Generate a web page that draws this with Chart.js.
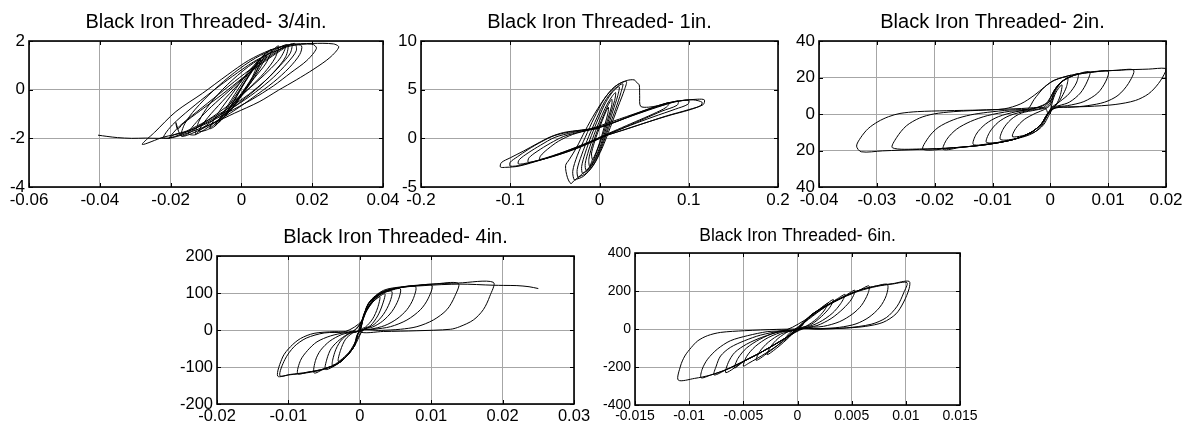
<!DOCTYPE html>
<html>
<head>
<meta charset="utf-8">
<script src="https://cdn.jsdelivr.net/npm/chart.js@4/dist/chart.umd.min.js"></script>
<style>
  html, body { margin: 0; padding: 0; background: #fff; }
  body { width: 1188px; height: 428px; position: relative; overflow: hidden; }
  canvas { position: absolute; }
</style>
</head>
<body>
<canvas id="p34"></canvas>
<canvas id="p1"></canvas>
<canvas id="p2"></canvas>
<canvas id="p4"></canvas>
<canvas id="p6"></canvas>
<script>
// --- data ---
const titles = [
    'Black Iron Threaded- 3/4in.',
    'Black Iron Threaded- 1in.',
    'Black Iron Threaded- 2in.',
    'Black Iron Threaded- 4in.',
    'Black Iron Threaded- 6in.'
];

// 3/4 in.
const xTicks34 = [-0.06, -0.04, -0.02, 0, 0.02, 0.04];
const yTicks34 = [-4, -2, 0, 2];
const curve34 = [
    [-0.004,-0.9],[-0.0015,-0.3],[0.0015,0.45],[0.0045,1.05],[0.003,0.5],[0.0,-0.15],[-0.004,-0.9],
    [-0.005,-1.15],[-0.002,-0.45],[0.001,0.3],[0.0035,0.85],[0.0055,1.25],[0.004,0.7],[0.0005,-0.1],[-0.0025,-0.7],[-0.005,-1.15],
    [-0.0065,-1.35],[-0.0035,-0.65],[0.0,0.1],[0.003,0.8],[0.0065,1.45],[0.0045,0.8],[0.001,0.0],[-0.0025,-0.75],[-0.0065,-1.35],
    [-0.0075,-1.5],[-0.0045,-0.8],[-0.001,0.0],[0.003,0.85],[0.0075,1.55],[0.0055,0.95],[0.002,0.15],[-0.002,-0.65],[-0.0075,-1.5],
    [-0.009,-1.6],[-0.0065,-0.95],[-0.0025,-0.15],[0.0015,0.65],[0.0055,1.3],[0.0085,1.65],[0.007,1.1],[0.0035,0.45],[-0.0005,-0.3],[-0.0045,-0.95],[-0.009,-1.6],
    [-0.012,-1.7],[-0.0095,-1.15],[-0.0055,-0.5],[-0.001,0.2],[0.0035,0.9],[0.0075,1.45],[0.0105,1.8],[0.0095,1.3],[0.0065,0.7],[0.0025,0.1],[-0.0025,-0.6],[-0.0075,-1.2],[-0.012,-1.7],
    [-0.013,-1.85],[-0.012,-1.3],[-0.009,-0.6],[-0.004,0.2],[0.002,0.95],[0.008,1.5],[0.013,1.85],[0.0125,1.35],[0.009,0.7],[0.004,0.0],[-0.002,-0.7],[-0.008,-1.4],[-0.013,-1.85],
    [-0.015,-1.8],[-0.0125,-1.3],[-0.0085,-0.7],[-0.0035,-0.05],[0.0015,0.6],[0.0065,1.2],[0.0105,1.6],[0.0125,1.78],[0.011,1.3],[0.0075,0.75],[0.003,0.15],[-0.002,-0.45],[-0.007,-1.0],[-0.0115,-1.45],[-0.015,-1.8],
    [-0.017,-1.9],[-0.016,-1.4],[-0.013,-0.8],[-0.008,-0.05],[-0.002,0.7],[0.004,1.3],[0.01,1.7],[0.015,1.85],[0.017,1.8],[0.0165,1.45],[0.0135,0.9],[0.009,0.3],[0.003,-0.35],[-0.003,-0.95],[-0.009,-1.45],[-0.014,-1.8],[-0.017,-1.9],
    [-0.0185,-1.35],[-0.018,-1.62],[-0.0165,-1.4],[-0.0115,-0.85],[-0.0055,-0.2],[0.0005,0.5],[0.0065,1.15],[0.011,1.6],[0.0142,1.87],[0.0138,1.5],[0.011,1.0],[0.007,0.4],[0.002,-0.2],[-0.004,-0.8],[-0.01,-1.3],[-0.0155,-1.7],[-0.019,-1.85],
    [-0.0205,-2.0],[-0.0175,-1.5],[-0.0125,-0.9],[-0.0065,-0.2],[-0.0005,0.5],[0.005,1.1],[0.01,1.6],[0.015,1.9],[0.0155,1.6],[0.013,1.1],[0.009,0.5],[0.004,-0.1],[-0.002,-0.7],[-0.008,-1.2],[-0.014,-1.65],[-0.0205,-2.0],
    [-0.022,-1.95],[-0.0195,-1.45],[-0.0145,-0.8],[-0.0085,-0.1],[-0.0025,0.55],[0.0035,1.15],[0.009,1.55],[0.014,1.8],[0.02,1.87],[0.0212,1.7],[0.0185,1.2],[0.014,0.7],[0.009,0.15],[0.003,-0.4],[-0.004,-0.95],[-0.01,-1.4],[-0.016,-1.75],[-0.022,-1.95],
    [-0.028,-2.25],[-0.0245,-1.75],[-0.0185,-0.9],[-0.011,-0.15],[-0.004,0.6],[0.002,1.2],[0.008,1.62],[0.0135,1.85],[0.02,1.9],[0.026,1.88],[0.0275,1.75],[0.025,1.32],[0.0205,0.85],[0.0155,0.4],[0.0105,-0.02],[0.005,-0.5],[-0.002,-0.97],[-0.008,-1.38],[-0.014,-1.72],[-0.0195,-1.97],[-0.0235,-2.0],
    [-0.027,-1.99],[-0.031,-2.0],[-0.035,-1.97],[-0.038,-1.92],[-0.0405,-1.87]
];

// 1 in.
const xTicks1 = [-0.2, -0.1, 0, 0.1, 0.2];
const yTicks1 = [-5, 0, 5, 10];
const curve1 = [
    [-0.008,-2.2],[-0.009,-1.6],[-0.006,-0.5],[-0.002,0.6],[0.003,1.8],[0.007,2.7],[0.01,3.2],[0.0095,2.6],[0.006,1.4],[0.002,0.1],[-0.002,-1.0],[-0.006,-1.9],[-0.008,-2.2],
    [-0.011,-2.9],[-0.012,-2.2],[-0.009,-1.0],[-0.004,0.4],[0.002,1.8],[0.008,3.1],[0.012,3.8],[0.014,4.0],[0.0135,3.3],[0.009,1.9],[0.004,0.4],[-0.002,-1.1],[-0.007,-2.3],[-0.011,-2.9],
    [-0.015,-3.3],[-0.016,-2.6],[-0.012,-1.2],[-0.006,0.4],[0.001,2.0],[0.008,3.4],[0.014,4.3],[0.018,4.7],[0.017,3.9],[0.012,2.4],[0.006,0.6],[0.0,-1.0],[-0.006,-2.3],[-0.011,-3.0],[-0.015,-3.3],
    [-0.019,-3.6],[-0.02,-2.9],[-0.016,-1.5],[-0.009,0.3],[-0.001,2.1],[0.007,3.7],[0.015,4.8],[0.022,5.3],[0.0205,4.4],[0.015,2.8],[0.008,0.8],[0.001,-1.0],[-0.006,-2.4],[-0.013,-3.3],[-0.019,-3.6],
    [-0.024,-4.0],[-0.025,-3.2],[-0.02,-1.7],[-0.012,0.2],[-0.003,2.1],[0.006,3.8],[0.016,5.0],[0.026,5.6],[0.024,4.7],[0.018,3.0],[0.01,1.0],[0.002,-1.0],[-0.006,-2.6],[-0.015,-3.6],[-0.024,-4.0],
    [-0.028,-4.3],[-0.03,-3.4],[-0.025,-1.8],[-0.016,0.1],[-0.006,2.1],[0.005,4.0],[0.017,5.3],[0.03,5.85],[0.028,5.0],[0.021,3.3],[0.012,1.1],[0.003,-1.0],[-0.007,-2.8],[-0.018,-3.9],[-0.028,-4.3],
    [-0.032,-4.65],[-0.036,-4.0],[-0.038,-2.8],[-0.034,-2.2],[-0.026,-1.0],[-0.016,0.8],[-0.005,2.6],[0.008,4.4],[0.02,5.5],[0.031,5.95],[0.039,6.0],
    [0.042,5.7],[0.0445,5.5],[0.045,4.4],[0.046,3.3],[0.055,3.2],[0.065,3.35],[0.078,3.65],
    [0.075,3.2],[0.06,2.5],[0.04,1.7],[0.02,0.9],[0.0,0.1],[-0.02,-0.8],[-0.04,-1.5],[-0.06,-2.05],[-0.067,-2.15],
    [-0.066,-1.8],[-0.058,-1.1],[-0.046,-0.3],[-0.03,0.4],[-0.01,0.9],[0.01,1.4],[0.03,2.1],[0.055,2.9],[0.075,3.5],[0.088,3.85],
    [0.087,3.4],[0.07,2.8],[0.05,2.0],[0.03,1.2],[0.01,0.4],[-0.01,-0.45],[-0.03,-1.2],[-0.055,-1.95],[-0.075,-2.4],[-0.08,-2.45],
    [-0.079,-2.0],[-0.07,-1.35],[-0.055,-0.5],[-0.04,0.2],[-0.02,0.7],[0.0,1.1],[0.025,1.95],[0.05,2.85],[0.075,3.6],[0.09,3.85],[0.1,3.9],
    [0.099,3.5],[0.085,3.0],[0.06,2.2],[0.035,1.35],[0.01,0.45],[-0.015,-0.5],[-0.04,-1.4],[-0.065,-2.2],[-0.085,-2.6],[-0.091,-2.62],
    [-0.09,-2.2],[-0.08,-1.5],[-0.066,-0.7],[-0.05,0.1],[-0.03,0.6],[-0.01,0.95],[0.015,1.6],[0.04,2.45],[0.065,3.25],[0.09,3.85],[0.105,3.95],[0.115,3.7],[0.113,3.35],
    [0.1,2.9],[0.08,2.4],[0.055,1.7],[0.03,0.95],[0.008,0.3],[-0.015,-0.55],[-0.04,-1.4],[-0.065,-2.15],[-0.088,-2.75],[-0.1,-2.85],
    [-0.1,-2.45],[-0.092,-1.9],[-0.08,-1.15],[-0.065,-0.35],[-0.05,0.3],[-0.03,0.7],[-0.01,1.0],[0.015,1.75],[0.045,2.7],[0.075,3.6],[0.095,3.9],[0.11,4.02],[0.1175,3.95],
    [0.116,3.45],[0.1,2.95],[0.075,2.3],[0.05,1.55],[0.025,0.8],[0.005,0.2],[-0.015,-0.6],[-0.04,-1.45],[-0.065,-2.2],[-0.09,-2.85],[-0.105,-2.98],[-0.111,-2.95],
    [-0.11,-2.5],[-0.1,-2.0],[-0.085,-1.3],[-0.07,-0.55],[-0.055,0.15],[-0.04,0.6],[-0.02,0.85],[0.0,1.0]
];

// 2 in.
const xTicks2 = [-0.04, -0.03, -0.02, -0.01, 0, 0.01, 0.02];
const yTicks2 = [-40, -20, 0, 20, 40];
const yLabels2 = ['40', '20', '0', '20', '40'];
const curve2 = [
    [0,0],[0.0003,6],[0.001,12],[0.002,16],[0.0017,10],[0.001,5],[0.0003,2.5],
    [-0.0003,-1],[-0.0012,-6],[-0.0028,-10],[-0.0065,-12.5],[-0.006,-8],[-0.0045,-3],[-0.0025,0.5],[-0.001,2.5],
    [0.0,5],[0.0008,12],[0.0018,17],[0.003,19.8],[0.0028,15],[0.002,9.5],[0.0012,5.5],[0.0004,3.5],
    [-0.0004,0],[-0.0014,-6],[-0.003,-10.5],[-0.0055,-13.2],[-0.0086,-14],[-0.0082,-8.5],[-0.0068,-3],[-0.005,0.5],[-0.0025,2.2],[-0.0008,3.5],
    [0.0,6.5],[0.0008,13],[0.002,17.6],[0.0035,20.5],[0.0048,22],[0.0045,17],[0.0032,11],[0.0018,7.2],[0.0008,5],[0.0002,3.5],
    [-0.0005,-0.5],[-0.0016,-5.8],[-0.0034,-10.2],[-0.0063,-13.9],[-0.011,-15.7],[-0.0105,-10],[-0.009,-4.5],[-0.007,-0.8],[-0.004,1.8],[-0.0015,3.2],
    [-0.0005,5.5],[0.0005,12],[0.0019,17.6],[0.0042,21.3],[0.0068,23.1],[0.0064,18],[0.0052,11.5],[0.0033,6.5],[0.0015,4.6],[0.0003,3.6],
    [-0.0005,0],[-0.0016,-5.6],[-0.0034,-10.2],[-0.0063,-13.9],[-0.0105,-16.2],[-0.0133,-16.7],[-0.0128,-11],[-0.0112,-5.5],[-0.009,-1.5],[-0.006,1.2],[-0.003,2.8],
    [-0.001,5],[0.0,9],[0.0007,13],[0.0019,17.6],[0.0042,21.3],[0.0077,23.1],[0.01,23.4],[0.0096,18],[0.0082,11.5],[0.0058,6.8],[0.003,4.6],[0.0008,3.6],
    [-0.0005,0],[-0.0016,-5.6],[-0.0034,-10.2],[-0.0063,-13.9],[-0.0109,-16.7],[-0.0155,-18.3],[-0.0185,-19.4],[-0.0179,-13.9],[-0.0162,-8.3],[-0.0138,-4.1],[-0.0109,-0.9],[-0.007,1.5],[-0.004,2.5],
    [-0.0028,8],[-0.001,14.8],[0.0007,18.5],[0.0036,21.3],[0.0077,23.3],[0.0115,23.9],[0.0144,24],[0.0135,16.7],[0.0117,10.2],[0.0094,6.5],[0.0065,4.6],[0.0036,3.7],[0.001,3.4],
    [-0.0005,0],[-0.0016,-5.6],[-0.0034,-10.2],[-0.0063,-13.9],[-0.0109,-16.7],[-0.0167,-18.5],[-0.022,-19.4],[-0.0211,-13],[-0.0194,-7.4],[-0.0167,-3.1],[-0.0138,-0.5],[-0.0109,0.9],[-0.007,2.2],[-0.003,3],
    [0.0001,7.4],[0.0007,13],[0.0019,17.6],[0.0042,21.3],[0.0077,23.1],[0.0123,24.1],[0.017,24.6],[0.0199,25],[0.0199,23.1],[0.0187,16.7],[0.017,11.1],[0.0147,7.4],[0.0112,5.2],[0.0065,4.1],[0.0007,3.3],
    [-0.0005,0],[-0.0016,-5.6],[-0.0034,-10.2],[-0.0063,-13.9],[-0.0109,-16.7],[-0.0167,-18.5],[-0.0226,-19.2],[-0.0273,-18.5],[-0.0266,-13],[-0.0249,-6.5],[-0.0226,-2.2],[-0.0202,0],[-0.0167,1.3],[-0.011,2.2],[-0.005,3],
    [-0.001,3.3],[-0.0005,0],[-0.0016,-5.6],[-0.0034,-10.2],[-0.0063,-13.9],[-0.0109,-16.7],[-0.0167,-18.5],[-0.0226,-19.4],[-0.029,-20.2],[-0.0327,-20.7],
    [-0.0335,-17.6],[-0.0328,-13],[-0.0315,-8],[-0.0298,-4.2],[-0.028,-1.5],[-0.026,0.3],[-0.023,1.3],[-0.018,1.8],[-0.012,2.2],[-0.008,2.8],[-0.0051,5.6],[-0.0028,10.2],[-0.001,14.8],[0.0007,18.5],[0.0036,21.3]
];

// 4 in.
const xTicks4 = [-0.02, -0.01, 0, 0.01, 0.02, 0.03];
const yTicks4 = [-200, -100, 0, 100, 200];
const curve4 = [
    [0,0],[0.0008,45],[0.0018,75],[0.0028,90],[0.0025,60],[0.0018,30],[0.0008,8],[0,0],[-0.0008,-40],[-0.0018,-70],[-0.003,-85],[-0.0027,-55],[-0.002,-25],[-0.001,-8],[0,0],
    [0.0006,40],[0.0018,75],[0.0035,98],[0.0032,70],[0.0025,38],[0.0015,12],[0.0005,2],[-0.0004,-25],[-0.0016,-62],[-0.0038,-95],[-0.0035,-60],[-0.0027,-30],[-0.0015,-10],[0,-1],
    [0.0006,42],[0.002,82],[0.0033,101],[0.0045,104],[0.0042,75],[0.0033,42],[0.002,15],[0.0008,3],[-0.0003,-10],[-0.0009,-48],[-0.0027,-86],[-0.0048,-107],[-0.0046,-78],[-0.004,-50],[-0.0028,-26],[-0.0012,-6],[0,-1],
    [0.0006,45],[0.0024,91],[0.0047,109],[0.0057,111],[0.0054,82],[0.0045,50],[0.0032,24],[0.0018,8],[0.0005,1],[-0.0008,-45],[-0.0027,-86],[-0.005,-105],[-0.0064,-116],[-0.0062,-82],[-0.0055,-55],[-0.0042,-30],[-0.0025,-12],[-0.0008,-3],
    [0.0003,25],[0.0012,70],[0.003,100],[0.0057,115],[0.0078,117],[0.0075,85],[0.0066,55],[0.0052,30],[0.0035,12],[0.0015,2],[0,-2],[-0.0008,-45],[-0.0027,-86],[-0.005,-105],[-0.0073,-114],[-0.0087,-118],[-0.0083,-82],[-0.0073,-55],[-0.006,-32],[-0.0041,-16],[-0.002,-7],[-0.0003,-3],
    [0.0003,25],[0.0012,70],[0.003,102],[0.0057,115],[0.008,120],[0.0101,121],[0.0096,86],[0.0085,55],[0.0066,27],[0.0043,9],[0.002,2],[0,-2],[-0.0008,-45],[-0.0027,-86],[-0.005,-105],[-0.0073,-114],[-0.0097,-120],[-0.0115,-124.5],[-0.0108,-73],[-0.0097,-45],[-0.0083,-23],[-0.0064,-9],[-0.0036,-4.5],[-0.001,-3],
    [0.0003,25],[0.0012,72],[0.0033,104],[0.0057,115],[0.008,120],[0.0103,124],[0.0138,126],[0.0133,91],[0.0122,55],[0.0103,27],[0.008,9],[0.0057,2],[0.003,-1],[0,-3],
    [-0.0008,-45],[-0.0027,-86],[-0.005,-106],[-0.0075,-116],[-0.0098,-121],[-0.0112,-123],[-0.0105,-80],[-0.0092,-45],[-0.0075,-22],[-0.005,-8],[-0.002,-4],
    [0.0003,25],[0.0013,75],[0.0033,107],[0.006,117],[0.01,124],[0.0138,127],[0.0187,129],[0.0182,91],[0.0173,55],[0.0159,27],[0.014,9],[0.0127,2],[0.008,-2],[0.0033,-4],[0.0,-4],
    [0.0006,40],[0.0022,88],[0.005,112],[0.009,120],[0.014,124],[0.0187,121],[0.0201,120.5],[0.022,120],[0.0237,117],[0.025,112]
];

// 6 in.
const xTicks6 = [-0.015, -0.01, -0.005, 0, 0.005, 0.01, 0.015];
const yTicks6 = [-400, -200, 0, 200, 400];
const curve6 = [
    [0,0],[0.0008,50],[0.0018,95],[0.0028,135],[0.0025,100],[0.0018,55],[0.0008,15],[0,0],[-0.0008,-45],[-0.0018,-95],[-0.0028,-135],[-0.0025,-95],[-0.0018,-50],[-0.0008,-12],[0,0],
    [0.001,55],[0.0022,110],[0.0033,155],[0.003,115],[0.0022,65],[0.0012,22],[0.0002,2],[-0.001,-50],[-0.0025,-115],[-0.0038,-165],[-0.0035,-120],[-0.0027,-70],[-0.0015,-25],[-0.0003,-4],
    [0.001,50],[0.0025,115],[0.0037,160],[0.0044,182],[0.004,135],[0.0032,82],[0.002,35],[0.0008,8],[-0.0005,-10],[-0.0015,-70],[-0.003,-130],[-0.0045,-180],[-0.005,-195],[-0.0047,-145],[-0.0039,-92],[-0.0027,-45],[-0.0012,-12],[0,-2],
    [0.0012,71],[0.0027,124],[0.0042,168],[0.0053,204],[0.005,158],[0.0042,106],[0.0031,55],[0.0018,18],[0.0004,2],[-0.001,-44],[-0.0034,-124],[-0.0049,-168],[-0.0058,-205],[-0.0055,-155],[-0.0047,-100],[-0.0035,-55],[-0.002,-18],[-0.0003,-3],
    [0.0012,71],[0.0027,124],[0.0042,168],[0.0057,204],[0.0066,227],[0.0065,186],[0.0059,124],[0.0051,80],[0.0039,39],[0.0024,14],[0.0006,3],[-0.001,-44],[-0.0034,-124],[-0.0049,-168],[-0.0066,-230],[-0.0064,-178],[-0.0058,-124],[-0.0047,-80],[-0.0033,-44],[-0.0015,-12],[0,-2],
    [0.0012,71],[0.0027,124],[0.0042,168],[0.0057,204],[0.0073,227],[0.0083,234],[0.0082,177],[0.0076,115],[0.0066,62],[0.0054,27],[0.0039,9],[0.0021,2],[0,-1],[-0.001,-44],[-0.0034,-124],[-0.0049,-168],[-0.0065,-212],[-0.0077,-242],[-0.0075,-195],[-0.0071,-142],[-0.0062,-97],[-0.0049,-62],[-0.0034,-32],[-0.0015,-10],[0,-2],
    [0.0012,71],[0.0027,124],[0.0042,168],[0.0057,204],[0.0073,227],[0.0088,239],[0.0103,251],[0.0103,212],[0.0098,142],[0.0091,80],[0.0079,35],[0.0063,14],[0.0045,5],[0.0021,0],[0,-1],[-0.001,-44],[-0.0034,-124],[-0.0049,-168],[-0.0065,-212],[-0.008,-242],[-0.0089,-257],[-0.0088,-212],[-0.0083,-159],[-0.0074,-106],[-0.0062,-62],[-0.0046,-35],[-0.0028,-14],[-0.001,-4],
    [0.0012,65],[0.0027,120],[0.0042,165],[0.0057,200],[0.0073,224],[0.0088,237],[0.0101,244],[0.0098,190],[0.0092,120],[0.0082,60],[0.0068,25],[0.0045,6],[0.002,0],[0,-2],[-0.001,-44],[-0.0034,-124],[-0.0049,-168],[-0.0065,-212],[-0.008,-242],[-0.0095,-260],[-0.011,-269],[-0.0108,-195],[-0.0104,-142],[-0.0098,-97],[-0.0092,-62],[-0.0083,-35],[-0.0071,-18],[-0.0049,-9],[-0.0019,-2],[0,0]
];

// --- layout of the five panels (canvas box + axis sizes) ---
const FONT = 'Liberation Sans, Arial, Helvetica, sans-serif';

const panels = [
    { id: 'p34', curve: curve34, xt: xTicks34, yt: yTicks34, title: titles[0],
      left: 0, top: 0, w: 405, h: 215, yW: 29, xH: 28, padR: 22, tSize: 20, tTop: 10, tBot: 7, fSize: 17 },
    { id: 'p1', curve: curve1, xt: xTicks1, yt: yTicks1, title: titles[1],
      left: 385, top: 0, w: 415, h: 215, yW: 36, xH: 28, padR: 22, tSize: 20, tTop: 10, tBot: 7, fSize: 17 },
    { id: 'p2', curve: curve2, xt: xTicks2, yt: yTicks2, yl: yLabels2, title: titles[2],
      left: 785, top: 0, w: 403, h: 215, yW: 34, xH: 28, padR: 22, tSize: 20, tTop: 10, tBot: 7, fSize: 17 },
    { id: 'p4', curve: curve4, xt: xTicks4, yt: yTicks4, title: titles[3],
      left: 150, top: 215, w: 445, h: 213, yW: 67, xH: 24, padR: 21, tSize: 20, tTop: 10, tBot: 7, fSize: 16.5 },
    { id: 'p6', curve: curve6, xt: xTicks6, yt: yTicks6, title: titles[4],
      left: 590, top: 215, w: 398, h: 213, yW: 45, xH: 23, padR: 28, tSize: 17.5, tTop: 11, tBot: 6, fSize: 14 }
];

// matlab style box + inward tick marks
const boxPlugin = {
    id: 'box',
    afterDatasetsDraw(chart) {
        const { ctx, chartArea: a, scales: { x, y } } = chart;
        ctx.save();
        ctx.strokeStyle = '#000';
        ctx.lineWidth = 1;
        ctx.beginPath();
        x.ticks.forEach(t => {
            const px = Math.round(x.getPixelForValue(t.value)) + 0.5;
            ctx.moveTo(px, a.bottom); ctx.lineTo(px, a.bottom - 4);
            ctx.moveTo(px, a.top); ctx.lineTo(px, a.top + 4);
        });
        y.ticks.forEach(t => {
            const py = Math.round(y.getPixelForValue(t.value)) + 0.5;
            ctx.moveTo(a.left, py); ctx.lineTo(a.left + 4, py);
            ctx.moveTo(a.right, py); ctx.lineTo(a.right - 4, py);
        });
        ctx.stroke();
        ctx.lineWidth = 1.6;
        ctx.strokeRect(a.left, a.top, a.right - a.left, a.bottom - a.top);
        ctx.restore();
    }
};

panels.forEach(p => {
    const canvas = document.getElementById(p.id);
    canvas.width = p.w;
    canvas.height = p.h;
    canvas.style.left = p.left + 'px';
    canvas.style.top = p.top + 'px';

    const tickFont = { family: FONT, size: p.fSize };
    const grid = { color: '#a6a6a6', lineWidth: 1, drawTicks: false };

    new Chart(canvas, {
        type: 'scatter',
        data: {
            datasets: [{
                data: p.curve,
                showLine: true,
                borderColor: '#000',
                borderWidth: 1,
                pointRadius: 0,
                tension: 0.3,
                fill: false
            }]
        },
        options: {
            responsive: false,
            animation: false,
            events: [],
            layout: { padding: { right: p.padR } },
            plugins: {
                legend: { display: false },
                tooltip: { enabled: false },
                title: {
                    display: true,
                    text: p.title,
                    color: '#000',
                    fullSize: false,
                    font: { family: FONT, size: p.tSize, weight: 'normal' },
                    padding: { top: p.tTop, bottom: p.tBot }
                }
            },
            scales: {
                x: {
                    type: 'linear',
                    min: p.xt[0],
                    max: p.xt[p.xt.length - 1],
                    afterBuildTicks: s => { s.ticks = p.xt.map(v => ({ value: v })); },
                    afterFit: s => { s.height = p.xH; },
                    ticks: { autoSkip: false, maxRotation: 0, padding: 3, color: '#000', font: tickFont,
                             callback: v => String(v) },
                    grid: grid,
                    border: { display: false }
                },
                y: {
                    type: 'linear',
                    min: p.yt[0],
                    max: p.yt[p.yt.length - 1],
                    afterBuildTicks: s => { s.ticks = p.yt.map(v => ({ value: v })); },
                    afterFit: s => { s.width = p.yW; },
                    ticks: { autoSkip: false, padding: 4, color: '#000', font: tickFont,
                             callback: (v, i) => p.yl ? p.yl[i] : String(v) },
                    grid: grid,
                    border: { display: false }
                }
            }
        },
        plugins: [boxPlugin]
    });
});
</script>
</body>
</html>
